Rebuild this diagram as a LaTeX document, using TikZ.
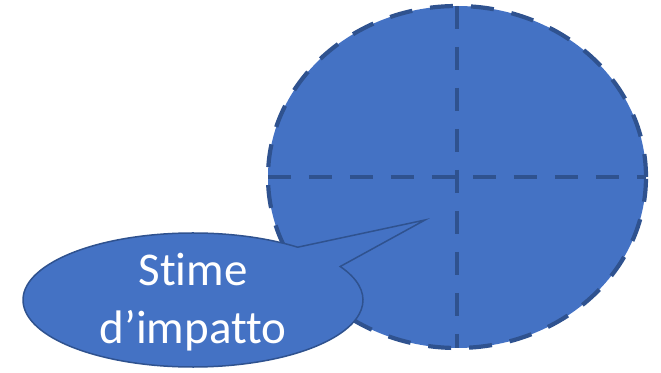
\documentclass[tikz,border=0pt]{standalone}
\usepackage{fontspec}
\setmainfont{Carlito}[Ligatures={NoCommon}]
\usetikzlibrary{shapes.geometric,calc}
\definecolor{fillblue}{HTML}{4472C4}
\definecolor{edgeblue}{HTML}{2F528F}
\tikzset{
  bigdash/.style={draw=edgeblue, line width=4.2pt, dash pattern=on 23pt off 18pt},
  callout/.style={fill=fillblue, draw=edgeblue, line width=1.5pt, line join=miter},
}
\begin{document}
\begin{tikzpicture}[x=1pt,y=1pt]
\useasboundingbox (0,0) rectangle (661,372);
% big dashed ellipse
\node[ellipse, fill=fillblue, minimum width=378pt, minimum height=342pt, inner sep=0pt] (big) at (457,195) {};
\draw[bigdash] (big.north) -- (big.south);
\draw[bigdash] (big.west) -- (big.east);
\draw[bigdash] (457,195) ellipse[x radius=189, y radius=171];
% callout
\coordinate (tip) at (425,152);
\coordinate (cc) at (193,72);
\draw[callout] (tip) -- ($(cc)+(52:170 and 67)$) arc[start angle=52, end angle=390, x radius=170, y radius=67] -- cycle;
\node[text=white, font=\fontsize{47}{58}\selectfont, align=center, inner sep=0pt] (lbl) at (193,70) {Stime\\d’impatto};
\end{tikzpicture}
\end{document}
